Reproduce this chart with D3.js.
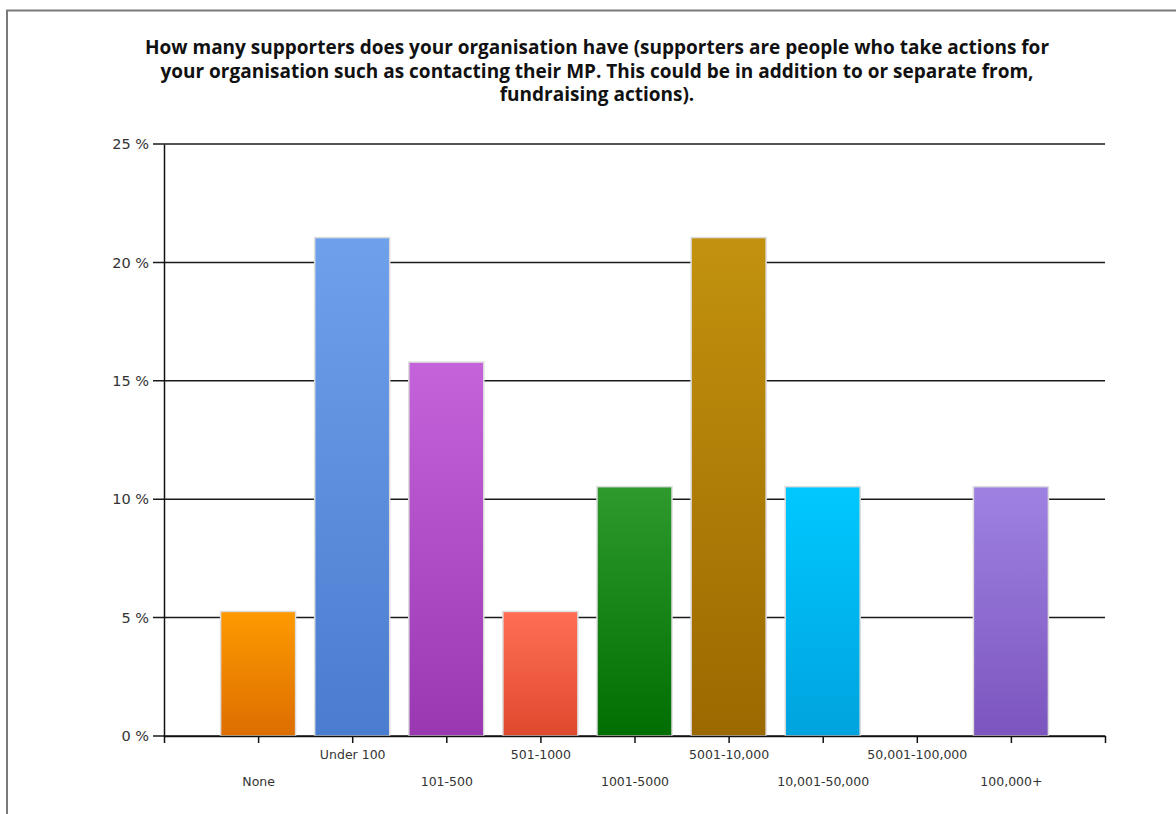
<!DOCTYPE html>
<html>
<head>
<meta charset="utf-8">
<script src="https://cdnjs.cloudflare.com/ajax/libs/d3/7.8.5/d3.min.js"></script>
<style>
  body { margin: 0; background: #fff; }
  svg { display: block; }
</style>
</head>
<body>
<svg id="chart" width="1176" height="814"></svg>
<script>
// data (19 respondents)
var categories = ["None", "Under 100", "101-500", "501-1000", "1001-5000",
                  "5001-10,000", "10,001-50,000", "50,001-100,000", "100,000+"];
var percents = [5.26, 21.05, 15.79, 5.26, 10.53, 21.05, 10.53, 0, 10.53];
var yTicks = [0, 5, 10, 15, 20, 25];
var titleLines = [
  "How many supporters does your organisation have (supporters are people who take actions for",
  "your organisation such as contacting their MP. This could be in addition to or separate from,",
  "fundraising actions)."
];
var barColors = [
  ["#ff9a00", "#dc6e00"],
  ["#6fa0ec", "#4a7ccf"],
  ["#c463da", "#9a38b2"],
  ["#ff6e55", "#df4a2e"],
  ["#2e9a2e", "#006e00"],
  ["#c2920f", "#9b6900"],
  ["#00c8ff", "#00a3de"],
  ["#cccccc", "#aaaaaa"],
  ["#9e82e2", "#7c55be"]
];

var margin = {top: 144, right: 71, bottom: 78, left: 164},
    width = 1176 - margin.left - margin.right,
    height = 814 - margin.top - margin.bottom;

var svg = d3.select("#chart");

// outer frame (partly cut off in the screenshot)
svg.append("path")
    .attr("d", "M7,814V10.5H1176")
    .attr("fill", "none")
    .attr("stroke", "#7a7a7a")
    .attr("stroke-width", 2);

// title
svg.append("g")
    .selectAll("text")
    .data(titleLines)
    .enter()
    .append("text")
    .attr("x", 597)
    .attr("y", function (d, i) { return 54 + i * 23.5; })
    .attr("text-anchor", "middle")
    .style("font-family", "'Open Sans', 'Liberation Sans', Arial, sans-serif")
    .style("font-weight", "bold")
    .style("font-size", "19px")
    .style("fill", "#111")
    .text(function (d) { return d; });

var defs = svg.append("defs");
barColors.forEach(function (c, i) {
  var lg = defs.append("linearGradient")
      .attr("id", "grad" + i)
      .attr("x1", 0).attr("y1", 0).attr("x2", 0).attr("y2", 1);
  lg.append("stop").attr("offset", "0%").attr("stop-color", c[0]);
  lg.append("stop").attr("offset", "100%").attr("stop-color", c[1]);
});

var g = svg.append("g")
    .attr("transform", "translate(" + margin.left + "," + margin.top + ")");

var x = d3.scalePoint()
    .domain(categories)
    .range([0, width])
    .padding(1);

var y = d3.scaleLinear()
    .domain([0, 25])
    .range([height, 0]);

var barWidth = 75;

// grid lines
g.append("g")
    .selectAll("line")
    .data(yTicks)
    .enter()
    .append("line")
    .attr("x1", -11)
    .attr("x2", width)
    .attr("y1", function (d) { return y(d); })
    .attr("y2", function (d) { return y(d); })
    .attr("stroke", "#1a1a1a")
    .attr("stroke-width", 1.5);

// bars
var bars = categories.map(function (c, i) { return {cat: c, v: percents[i], i: i}; })
    .filter(function (d) { return d.v > 0; });

g.append("g")
    .selectAll("rect")
    .data(bars)
    .enter()
    .append("rect")
    .attr("x", function (d) { return x(d.cat) - barWidth / 2; })
    .attr("y", function (d) { return y(d.v); })
    .attr("width", barWidth)
    .attr("height", function (d) { return height - y(d.v); })
    .attr("fill", function (d) { return "url(#grad" + d.i + ")"; })
    .attr("stroke", "#dddddd")
    .attr("stroke-width", 1.5);

// y axis
var yAxis = g.append("g")
    .call(d3.axisLeft(y).tickValues(yTicks).tickFormat(function (d) { return d + " %"; })
      .tickSize(0).tickPadding(15));
yAxis.select(".domain").attr("stroke", "#111").attr("stroke-width", 1.5);
yAxis.selectAll("text")
    .style("font-family", "'DejaVu Sans', Verdana, sans-serif")
    .style("font-size", "14.5px")
    .style("fill", "#333");

// x axis
var xAxis = g.append("g")
    .attr("transform", "translate(0," + height + ")")
    .call(d3.axisBottom(x).tickSize(7).tickSizeOuter(7).tickPadding(0));
xAxis.select(".domain").attr("stroke", "#111").attr("stroke-width", 1.5);
xAxis.selectAll(".tick line").attr("stroke", "#111").attr("stroke-width", 1.5);
xAxis.selectAll("text")
    .attr("dy", null)
    .attr("y", function (d, i) { return i % 2 === 0 ? 50 : 23; })
    .style("font-family", "'DejaVu Sans', Verdana, sans-serif")
    .style("font-size", "12.5px")
    .style("fill", "#333");
</script>
</body>
</html>
